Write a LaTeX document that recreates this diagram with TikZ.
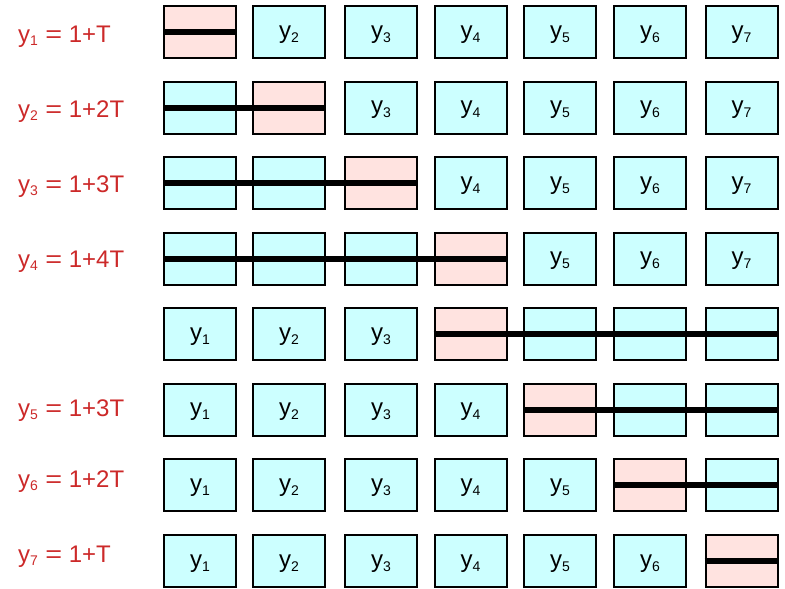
\documentclass[tikz,border=0pt]{standalone}
\usepackage{fontspec}
\setmainfont{Liberation Sans}
\definecolor{cyanfill}{HTML}{CCFFFF}
\definecolor{pinkfill}{HTML}{FFE3E0}
\definecolor{labred}{HTML}{CC2929}
\newcommand\ysub[1]{y\raisebox{-4pt}{\fontsize{14}{14}\selectfont #1}}
\newcommand\ylab[1]{y\raisebox{-3pt}{\fontsize{14}{14}\selectfont #1}}
\newcommand\eqlab[2]{\ylab{#1}\hspace{7.5pt}\scalebox{1.2}[1]{=}\hspace{6.5pt}1+#2}
\begin{document}
\begin{tikzpicture}[x=1pt,y=-1pt,
  cell/.style={draw=black,line width=2pt,minimum width=72pt,minimum height=52pt,
    inner sep=0pt,text height=18pt,text depth=6pt,font=\fontsize{24}{24}\selectfont},
  cyancell/.style={cell,fill=cyanfill},
  pinkcell/.style={cell,fill=pinkfill},
  bar/.style={line width=6pt,line cap=butt,black},
  lab/.style={anchor=base west,inner sep=0pt,text=labred,font=\fontsize{24}{24}\selectfont}]
\useasboundingbox (0,0) rectangle (785,589);
% rows: row / pink column / text-after flag (1: text right of pink, 0: text left) / y
\foreach \r/\p/\t/\yy in {1/1/1/32,2/2/1/107.6,3/3/1/183.1,4/4/1/258.7,5/4/0/334.3,6/5/0/409.9,7/6/0/485.4,8/7/0/561}{
  \foreach \c/\xx in {1/200,2/289,3/381,4/470.5,5/560,6/650,7/741.5}{
    \ifnum\c=\p
      \node[pinkcell] (b\r-\c) at (\xx,\yy) {};
    \else
      \ifnum\t=1
        \ifnum\c>\p
          \node[cyancell] (b\r-\c) at (\xx,\yy) {\ysub{\c}};
        \else
          \node[cyancell] (b\r-\c) at (\xx,\yy) {};
        \fi
      \else
        \ifnum\c<\p
          \node[cyancell] (b\r-\c) at (\xx,\yy) {\ysub{\c}};
        \else
          \node[cyancell] (b\r-\c) at (\xx,\yy) {};
        \fi
      \fi
    \fi
  }
}
\foreach \r/\a/\b in {1/1/1,2/1/2,3/1/3,4/1/4,5/4/7,6/5/7,7/6/7,8/7/7}
  \draw[bar] (b\r-\a.west) -- (b\r-\b.east);
\node[lab] (l1) at (18,42.3) {\eqlab{1}{T}};
\node[lab] (l2) at (18,117.3) {\eqlab{2}{2T}};
\node[lab] (l3) at (18,192.3) {\eqlab{3}{3T}};
\node[lab] (l4) at (18,267.3) {\eqlab{4}{4T}};
\node[lab] (l5) at (18,416.7) {\eqlab{5}{3T}};
\node[lab] (l6) at (18,487.3) {\eqlab{6}{2T}};
\node[lab] (l7) at (18,562) {\eqlab{7}{T}};
\end{tikzpicture}
\end{document}
